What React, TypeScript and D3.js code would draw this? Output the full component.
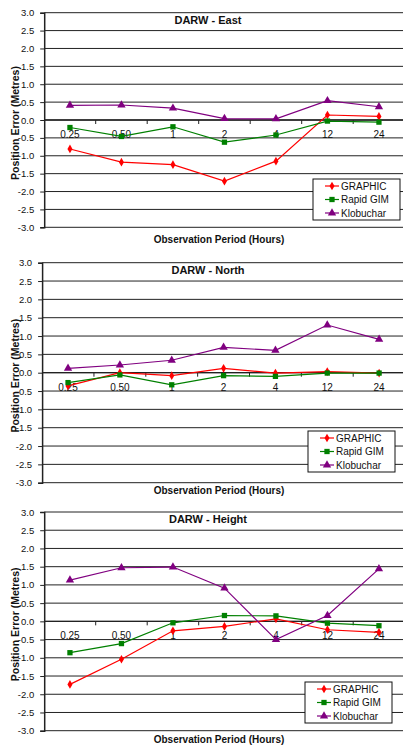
import React, { useRef, useEffect } from 'react';
import * as d3 from 'd3';

const periods = ['0.25', '0.50', '1', '2', '4', '12', '24'];
const seriesNames = ['GRAPHIC', 'Rapid GIM', 'Klobuchar'];
const seriesColors = ['#ff0000', '#008000', '#800080'];
const yTicks = [3.0, 2.5, 2.0, 1.5, 1.0, 0.5, 0.0, -0.5, -1.0, -1.5, -2.0, -2.5, -3.0];

const panelTitles = ['DARW - East', 'DARW - North', 'DARW - Height'];

const eastGraphic = [-0.81, -1.18, -1.25, -1.71, -1.15, 0.14, 0.1];
const eastRapid = [-0.21, -0.46, -0.19, -0.62, -0.42, -0.03, -0.06];
const eastKlob = [0.41, 0.42, 0.33, 0.04, 0.03, 0.54, 0.37];

const northGraphic = [-0.36, 0.0, -0.08, 0.12, -0.01, 0.03, -0.01];
const northRapid = [-0.27, -0.06, -0.33, -0.08, -0.1, -0.01, -0.01];
const northKlob = [0.12, 0.21, 0.34, 0.69, 0.61, 1.3, 0.91];

const heightGraphic = [-1.73, -1.04, -0.26, -0.14, 0.07, -0.23, -0.3];
const heightRapid = [-0.86, -0.61, -0.04, 0.16, 0.15, -0.05, -0.12];
const heightKlob = [1.13, 1.47, 1.49, 0.91, -0.5, 0.16, 1.44];

const panelSeries = [
  [eastGraphic, eastRapid, eastKlob],
  [northGraphic, northRapid, northKlob],
  [heightGraphic, heightRapid, heightKlob],
];

// layout of each panel (pixels)
const layout = [
  { top: 12.7, bottom: 227.3, left: 44.2, step: 51.5, legendX: 313, legendY: 179, xTitleY: 243 },
  { top: 262.7, bottom: 482.7, left: 42.1, step: 51.85, legendX: 308, legendY: 431, xTitleY: 494 },
  { top: 512, bottom: 730.7, left: 44.2, step: 51.5, legendX: 305, legendY: 682, xTitleY: 742.5 },
];

const symbols = [d3.symbolDiamond, d3.symbolSquare, d3.symbolTriangle];
const symbolSizes = [22, 28, 30];

const App = () => {
  const ref = useRef<SVGSVGElement>(null);

  useEffect(() => {
    const svg = d3.select(ref.current);
    svg.selectAll('*').remove();
    const font = 'Arial, "Liberation Sans", sans-serif';

    layout.forEach((L, pi) => {
      const g = svg.append('g');
      const x = d3.scaleBand()
        .domain(periods)
        .range([L.left, L.left + L.step * periods.length]);
      const y = d3.scaleLinear().domain([-3, 3]).range([L.bottom, L.top]);
      const cx = (p: string) => (x(p) as number) + x.bandwidth() / 2;

      // gridlines
      g.append('g')
        .selectAll('line')
        .data(yTicks)
        .join('line')
        .attr('x1', L.left)
        .attr('x2', 403)
        .attr('y1', d => y(d))
        .attr('y2', d => y(d))
        .attr('stroke', '#222')
        .attr('stroke-width', 1);

      // y axis
      const ya = g.append('g')
        .attr('transform', `translate(${L.left},0)`)
        .call(d3.axisLeft(y).tickValues(yTicks).tickSize(4).tickFormat(d3.format('.1f')));
      ya.select('.domain').attr('stroke', '#222').attr('stroke-width', 1.5);
      ya.selectAll('line').attr('stroke', '#222');
      ya.selectAll('text')
        .attr('font-family', font)
        .attr('font-size', 9.5)
        .attr('fill', '#111')
        .attr('dx', -3)
        .text((d: any) => (d < 0 ? '-' : '') + d3.format('.1f')(Math.abs(d)));

      // x axis at zero
      const y0 = y(0);
      g.append('line')
        .attr('x1', L.left).attr('x2', 403)
        .attr('y1', y0).attr('y2', y0)
        .attr('stroke', '#222').attr('stroke-width', 1.3);
      g.append('g')
        .selectAll('line')
        .data(periods.slice(1).concat(['end']))
        .join('line')
        .attr('x1', d => d === 'end' ? L.left + L.step * periods.length : (x(d) as number))
        .attr('x2', d => d === 'end' ? L.left + L.step * periods.length : (x(d) as number))
        .attr('y1', y0)
        .attr('y2', y0 + 4)
        .attr('stroke', '#222');
      g.append('g')
        .selectAll('text')
        .data(periods)
        .join('text')
        .attr('x', d => cx(d))
        .attr('y', y0 + 18)
        .attr('text-anchor', 'middle')
        .attr('font-family', font)
        .attr('font-size', 10)
        .attr('fill', '#111')
        .text(d => d);

      // series
      panelSeries[pi].forEach((vals, si) => {
        const line = d3.line<number>()
          .x((_, i) => cx(periods[i]))
          .y(d => y(d));
        g.append('path')
          .attr('d', line(vals))
          .attr('fill', 'none')
          .attr('stroke', seriesColors[si])
          .attr('stroke-width', 1.2);
        g.append('g')
          .selectAll('path')
          .data(vals)
          .join('path')
          .attr('transform', (d, i) => `translate(${cx(periods[i])},${y(d)})`)
          .attr('d', d3.symbol().type(symbols[si]).size(symbolSizes[si])())
          .attr('fill', seriesColors[si]);
      });

      // title
      g.append('text')
        .attr('x', 208)
        .attr('y', L.top + 11)
        .attr('text-anchor', 'middle')
        .attr('font-family', font)
        .attr('font-weight', 'bold')
        .attr('font-size', 11)
        .attr('fill', '#111')
        .text(panelTitles[pi]);

      // axis titles
      g.append('text')
        .attr('x', 219)
        .attr('y', L.xTitleY)
        .attr('text-anchor', 'middle')
        .attr('font-family', font)
        .attr('font-weight', 'bold')
        .attr('font-size', 10)
        .attr('fill', '#111')
        .text('Observation Period (Hours)');
      g.append('text')
        .attr('transform', `translate(18.5,${(L.top + L.bottom) / 2 + 3}) rotate(-90)`)
        .attr('text-anchor', 'middle')
        .attr('font-family', font)
        .attr('font-weight', 'bold')
        .attr('font-size', 10.5)
        .attr('fill', '#111')
        .text('Position Error (Metres)');

      // legend
      const lg = g.append('g').attr('transform', `translate(${L.legendX},${L.legendY})`);
      lg.append('rect')
        .attr('width', 87)
        .attr('height', 41)
        .attr('fill', '#fff')
        .attr('stroke', '#111')
        .attr('stroke-width', 1);
      seriesNames.forEach((name, si) => {
        const ly = 7 + si * 13.5;
        lg.append('line')
          .attr('x1', 12).attr('x2', 26)
          .attr('y1', ly).attr('y2', ly)
          .attr('stroke', seriesColors[si])
          .attr('stroke-width', 1.2);
        lg.append('path')
          .attr('transform', `translate(19,${ly})`)
          .attr('d', d3.symbol().type(symbols[si]).size(symbolSizes[si])())
          .attr('fill', seriesColors[si]);
        lg.append('text')
          .attr('x', 28)
          .attr('y', ly + 3.5)
          .attr('font-family', font)
          .attr('font-size', 10)
          .attr('fill', '#111')
          .text(name);
      });
    });
  }, []);

  return (
    <svg
      ref={ref}
      width={403}
      height={747}
      style={{ position: 'absolute', left: 0, top: 0, background: '#fff' }}
    />
  );
};

export default App;
